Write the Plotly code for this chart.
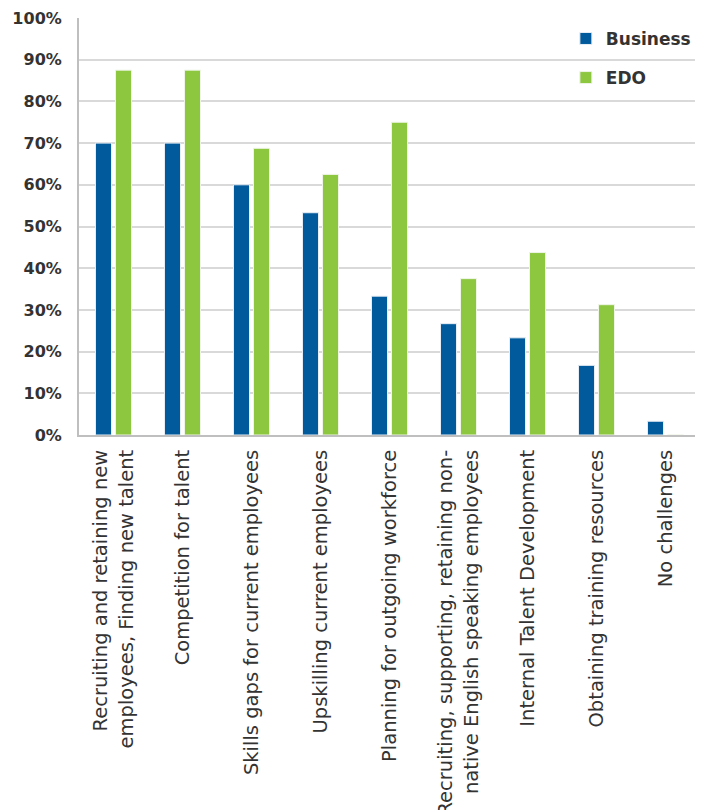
import plotly.graph_objects as go

categories = [
    "Recruiting and retaining new<br>employees, Finding new talent",
    "Competition for talent",
    "Skills gaps for current employees",
    "Upskilling current employees",
    "Planning for outgoing workforce",
    "Recruiting, supporting, retaining non-<br>native English speaking employees",
    "Internal Talent Development",
    "Obtaining training resources",
    "No challenges",
]
business = [0.70, 0.70, 0.60, 0.533, 0.333, 0.267, 0.233, 0.167, 0.033]
edo = [0.875, 0.875, 0.6875, 0.625, 0.75, 0.375, 0.4375, 0.3125, 0.0]
y_ticks = [i / 10 for i in range(11)]
y_tick_labels = [f"{i*10}%" for i in range(11)]

fig = go.Figure()
fig.add_bar(x=categories, y=business, name="Business", marker_color="#005a9c",
            marker_line=dict(color="#e8eef5", width=1), legendgroup="a")
fig.add_bar(x=categories, y=edo, name="EDO", marker_color="#8dc63f",
            marker_line=dict(color="#eef5e6", width=1), legendgroup="b")

fig.update_layout(
    width=703, height=810,
    margin=dict(l=71, r=11, t=10, b=383),
    plot_bgcolor="white", paper_bgcolor="white",
    barmode="group", bargap=0.42, bargroupgap=0.2,
    font=dict(family="DejaVu Sans", color="#333333", size=16),
    legend=dict(x=0.784, y=0.993, xanchor="left", yanchor="top",
                bgcolor="rgba(0,0,0,0)", tracegroupgap=14,
                font=dict(size=17, family="DejaVu Sans", weight="bold", color="#333333")),
    xaxis=dict(tickangle=-90, showline=True, linecolor="#bfbfbf", linewidth=2,
               tickfont=dict(size=19.5, color="#333333"), ticks="",
               ticklabelstandoff=5, automargin=False),
    yaxis=dict(range=[0, 1.0], tickvals=y_ticks, ticktext=y_tick_labels,
               showline=True, linecolor="#bfbfbf", linewidth=2,
               gridcolor="#d9d9d9", gridwidth=1.5, zeroline=False,
               tickfont=dict(size=16, weight="bold", color="#333333"), ticks="",
               ticklabelstandoff=12, automargin=False),
)
fig.write_html("out.html")
